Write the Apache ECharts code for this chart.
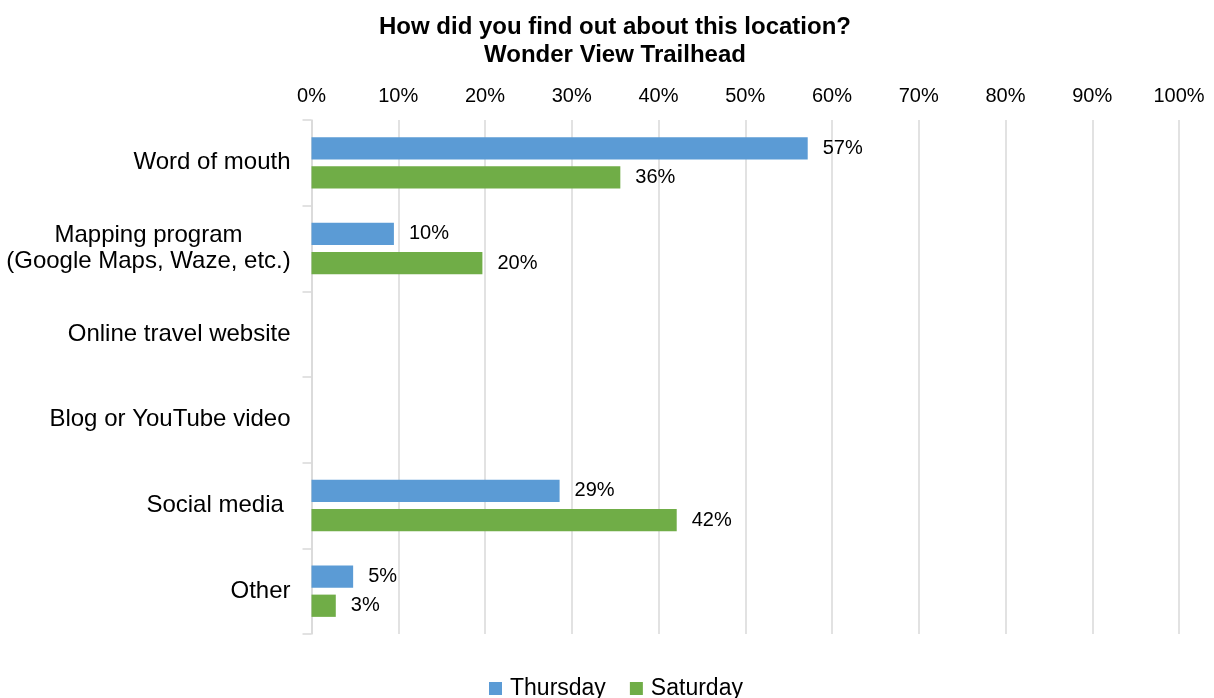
<!DOCTYPE html>
<html>
<head>
<meta charset="utf-8">
<title>How did you find out about this location?</title>
<script src="https://cdn.jsdelivr.net/npm/echarts@6/dist/echarts.min.js"></script>
<style>
  html, body { margin: 0; padding: 0; background: #ffffff; }
  #chart { width: 1214px; height: 698px; }
</style>
</head>
<body>
<div id="chart"></div>
<script>
// Survey answers, share of respondents (%)
const categories = [
  'Word of mouth',
  'Mapping program\n(Google Maps, Waze, etc.)',
  'Online travel website',
  'Blog or YouTube video',
  'Social media ',
  'Other'
];
const seriesNames = ['Thursday', 'Saturday'];
const thursday = [57.2, 9.5, null, null, 28.6, 4.8];
const saturday = [35.6, 19.7, null, null, 42.1, 2.8];
const tickStep = 10;

const FONT = '"Liberation Sans", Arial, Helvetica, sans-serif';
const chart = echarts.init(document.getElementById('chart'), null, { renderer: 'canvas' });

function pct(p) {
  return p.value == null ? '' : Math.round(p.value) + '%';
}

chart.setOption({
  backgroundColor: '#ffffff',
  animation: false,
  title: {
    text: 'How did you find out about this location?\nWonder View Trailhead',
    left: 610,
    top: 8,
    textAlign: 'center',
    textStyle: {
      fontFamily: FONT,
      fontSize: 24,
      fontWeight: 'bold',
      color: '#000000',
      lineHeight: 28
    }
  },
  legend: {
    data: seriesNames,
    left: 484,
    top: 672,
    icon: 'rect',
    itemWidth: 13,
    itemHeight: 13,
    itemGap: 24,
    textStyle: {
      fontFamily: FONT,
      fontSize: 23,
      color: '#000000',
      padding: [0, 0, 0, 3]
    }
  },
  grid: {
    left: 311.5,
    right: 35,
    top: 120,
    bottom: 64,
    containLabel: false
  },
  xAxis: {
    type: 'value',
    position: 'top',
    min: 0,
    max: 100,
    interval: tickStep,
    axisLine: { show: false },
    axisTick: { show: false },
    axisLabel: {
      formatter: '{value}%',
      fontFamily: FONT,
      fontSize: 20,
      color: '#000000',
      margin: 14
    },
    splitLine: { lineStyle: { color: '#d9d9d9', width: 1.5 } }
  },
  yAxis: {
    type: 'category',
    data: categories,
    inverse: true,
    axisLine: { show: true, lineStyle: { color: '#d9d9d9', width: 1.5 } },
    axisTick: { show: true, length: 9, lineStyle: { color: '#d9d9d9', width: 1.5 } },
    axisLabel: {
      fontFamily: FONT,
      fontSize: 24,
      color: '#000000',
      margin: 21,
      lineHeight: 26,
      formatter: function (v) {
        if (v.indexOf('\n') >= 0) {
          return v.split('\n').map(function (s) { return '{c|' + s + '}'; }).join('\n');
        }
        return v;
      },
      rich: {
        c: {
          width: 284,
          align: 'center',
          fontFamily: FONT,
          fontSize: 24,
          color: '#000000',
          lineHeight: 26
        }
      }
    }
  },
  series: [
    {
      name: seriesNames[0],
      type: 'bar',
      data: thursday,
      barCategoryGap: '40%',
      barGap: '31%',
      itemStyle: { color: '#5b9bd5' },
      label: {
        show: true,
        position: 'right',
        distance: 15,
        formatter: pct,
        fontFamily: FONT,
        fontSize: 20,
        color: '#000000'
      }
    },
    {
      name: seriesNames[1],
      type: 'bar',
      data: saturday,
      barCategoryGap: '40%',
      barGap: '31%',
      itemStyle: { color: '#70ad47' },
      label: {
        show: true,
        position: 'right',
        distance: 15,
        formatter: pct,
        fontFamily: FONT,
        fontSize: 20,
        color: '#000000'
      }
    }
  ]
});
</script>
</body>
</html>
